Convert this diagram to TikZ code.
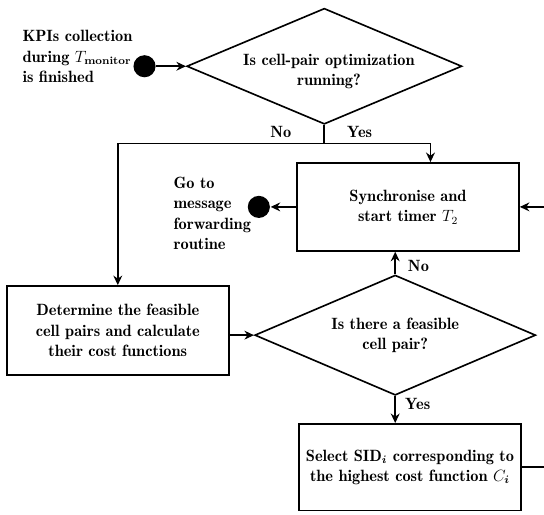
\documentclass[tikz,border=0pt]{standalone}
\usepackage{amsmath}
\usetikzlibrary{shapes.geometric,arrows.meta}
\begin{document}
\begin{tikzpicture}[>={Stealth[length=7pt,width=6.5pt]},line width=1.2pt,
  every node/.style={font=\fontsize{12}{15}\fontseries{b}\selectfont},
  box/.style={draw,minimum width=5.73cm,minimum height=2.27cm,align=center,inner sep=0},
  cond/.style={draw,diamond,aspect=2.35,inner sep=0,align=center},
  dot/.style={circle,fill,inner sep=0,minimum size=.57cm}]
\useasboundingbox(0,0)rectangle(14.04,13.29);
\node[cond,minimum width=7.1cm,minimum height=2.99cm](run)at(8.37,11.58){};
\node[align=center](runtxt)at(8.49,11.45){Is cell-pair optimization\\running?};
\node[dot](start)at(3.73,11.58){};
\node[anchor=west,align=left,inner sep=0](kpi)at(.56,11.83){KPIs collection\\during $T_{\textbf{monitor}}$\\is finished};
\node[box](sync)at(10.53,7.95){Synchronise and\\start timer $T_2$};
\node[dot](fwd)at(6.68,7.95){};
\node[anchor=west,align=left,inner sep=0](goto)at(4.46,7.78){Go to\\message\\forwarding\\routine};
\node[box,minimum height=2.3cm](calc)at(3.04,4.76){Determine the feasible\\cell pairs and calculate\\their cost functions};
\node[cond,minimum width=7.25cm,minimum height=3.1cm](feas)at(10.2,4.64){Is there a feasible\\cell pair?};
\node[box,minimum height=2.24cm](sel)at(10.58,1.23){Select SID$_{\boldsymbol{i}}$ corresponding to\\the highest cost function $C_{\boldsymbol{i}}$};
\coordinate(split)at([yshift=-.475cm]run.south);
\coordinate(yesin)at([xshift=.58cm]sync.north);
\draw[->](start)--(run.west);
\draw(run.south)--(split);
\draw[->](split)-|(calc.north);
\draw[->](split)-|(yesin);
\draw[->](sync.west)--(fwd);
\draw[->](calc.east|-feas.west)--(feas.west);
\draw[->](feas.north)--(feas.north|-sync.south);
\draw[->](feas.south)--(feas.south|-sel.north);
\draw[->](sel.east)--++(1.5,0)|-(sync.east);
\node(no1)at(7.25,9.88){No};
\node(yes1)at(9.28,9.88){Yes};
\node(no2)at(10.8,6.42){No};
\node(yes2)at(10.78,2.86){Yes};
\end{tikzpicture}
\end{document}
